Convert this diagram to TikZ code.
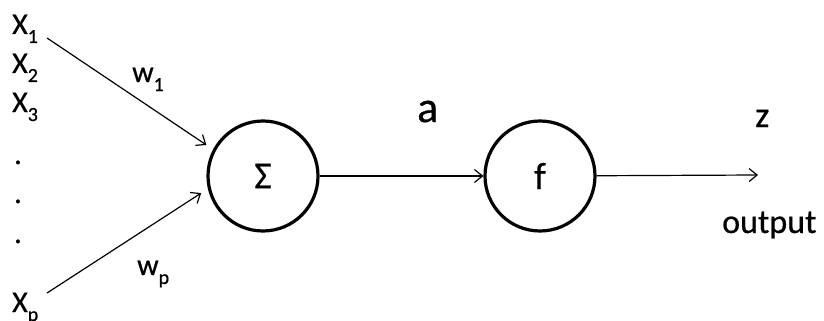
\documentclass[tikz,border=0pt]{standalone}
\usepackage{fontspec}
\setmainfont{Carlito}[FakeBold=0.6]
\usetikzlibrary{arrows.meta}
\newcommand\mysub[1]{\raisebox{-0.3em}{\fontsize{20}{22}\selectfont #1}}
\begin{document}
\begin{tikzpicture}[x=1pt,y=-1pt,
  lbl/.style={inner sep=0pt, anchor=base west, font=\fontsize{30}{32}\selectfont},
  big/.style={inner sep=0pt, anchor=base west, font=\fontsize{36}{40}\selectfont},
  neuron/.style={circle, draw, line width=3.2pt, minimum size=110pt, inner sep=0pt, font=\fontsize{38}{40}\selectfont},
  conn/.style={line width=1.2pt, -{Straight Barb[length=8pt,width=13pt,line width=1.2pt]}}
]
\useasboundingbox (0,0) rectangle (824,321);
% inputs
\node[lbl] (x1) at (12,34) {X\mysub{1}};
\node[lbl] (x2) at (12,73) {X\mysub{2}};
\node[lbl] (x3) at (12,112) {X\mysub{3}};
\node[lbl] (d1) at (14,164) {.};
\node[lbl] (d2) at (14,203) {.};
\node[lbl] (d3) at (14,243) {.};
\node[lbl] (xp) at (12,312) {X\mysub{p}};
% neurons
\node[neuron] (sigma) at (263,176) {Σ};
\node[neuron] (f) at (540,176) {f};
% connector ends
\coordinate (s1) at (47,38);
\coordinate (sp) at (47,293);
\coordinate (zend) at (758,175);
% connectors
\draw[conn, shorten >=8pt] (s1) -- (sigma.152);
\draw[conn, shorten >=8pt] (sp) -- (sigma.193);
\draw[conn] (sigma) -- (f);
\draw[conn] (f) -- (zend);
% labels
\node[lbl] (w1) at (132,82) {w\mysub{1}};
\node[lbl] (wp) at (137,275) {w\mysub{p}};
\node[inner sep=0pt, anchor=base west, font=\fontsize{44}{48}\selectfont] (a) at (417,122) {a};
\node[big] (z) at (755,127) {z};
\node[inner sep=0pt, anchor=base west, font=\fontsize{34}{38}\selectfont] (out) at (722,233) {output};
\end{tikzpicture}
\end{document}
